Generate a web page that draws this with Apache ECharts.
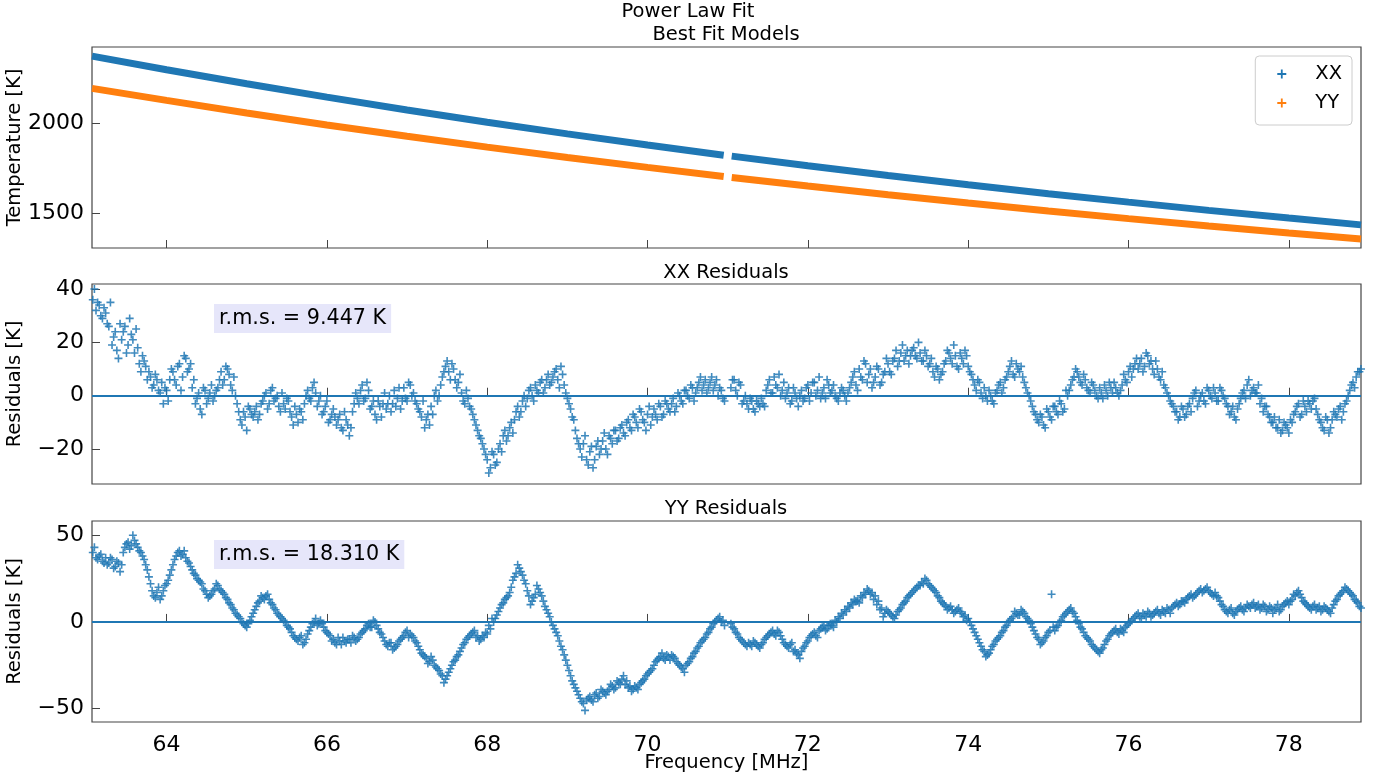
<!DOCTYPE html>
<html>
<head>
<meta charset="utf-8">
<script src="https://cdn.jsdelivr.net/npm/echarts@6/dist/echarts.min.js"></script>
<style>
html, body { margin: 0; padding: 0; background: #fff; }
#main { width: 1377px; height: 776px; }
</style>
</head>
<body>
<div id="main"></div>
<script>
// 频率轴范围与刻度
var freqMin = 63.07, freqMax = 78.9;
var xTicks = [64, 66, 68, 70, 72, 74, 76, 78];

// 上图：幂律拟合模型（中间 71 MHz 附近有缺口）
var modelFreq = [63.07, 64, 65, 66, 67, 68, 69, 70, 70.95, 71.0, 71.05, 72, 73, 74, 75, 76, 77, 78, 78.9];
var modelXX = [2376, 2300, 2222, 2147, 2075, 2007, 1942, 1880, 1823, '-', 1818, 1764, 1710, 1658, 1608, 1561, 1515, 1472, 1434];
var modelYY = [2196, 2129, 2059, 1992, 1929, 1868, 1810, 1755, 1704, '-', 1699, 1651, 1602, 1556, 1512, 1469, 1428, 1389, 1355];

// 残差采样：A 组从 63.08 MHz 起，B 组从 63.10 MHz 起，都是每 0.04 MHz 一个点，每行 1 MHz
var residStep = 0.04;
var startA = 63.08, startB = 63.10;
var xxResidA = [
    36, 32, 34, 29, 31, 26, 19, 24, 14, 21, 26, 19, 23, 16, 18, 9, 13, 6, 7, 4, 6, 1, -3, 2, 6,
    9, 4, 12, 7, 14, 10, 3, -3, 1, -7, 2, -1, 4, 0, 3, 9, 6, 10, 4, 7, -3, -9, -6, -13, -5,
    -8, -4, -7, -2, 1, -3, 3, -1, -4, 1, -5, -2, -8, -4, -10, -6, -3, 2, -2, 5, -4, 0, -6, -2, -9,
    -5, -11, -7, -13, -9, -15, -6, 1, -3, 4, -1, 2, -4, -7, -2, -8, 1, -3, -6, 2, -1, -5, 3, -2, 4,
    1, -3, -6, -2, -9, -11, -7, 2, 0, 7, 11, 9, 12, 6, 5, 1, -3, -1, -5, -9, -13, -16, -20, -24, -27,
    -22, -25, -18, -15, -17, -12, -14, -6, -8, -2, -4, 2, 0, 4, 1, 6, 3, 8, 5, 9, 6, 11, 4, -1, -5,
    -9, -16, -20, -18, -24, -21, -27, -19, -22, -17, -20, -15, -18, -13, -16, -11, -15, -9, -13, -8, -12, -6, -10, -7, -11,
    -5, -9, -4, -7, -3, -6, -1, -4, 0, -3, 2, -1, 3, 1, 5, 2, 6, 3, 7, 4, 0, 2, -2, null, 3,
    6, 0, 4, -2, -3, -1, -5, -2, -4, -3, 2, 6, 1, 4, 8, 2, -1, 3, -2, 1, -4, 2, -1, 4, 1,
    5, 2, -1, 3, 6, 1, 4, -1, 1, 2, -2, 3, 7, 4, 10, 6, 12, 8, 3, 7, 10, 5, 9, 12, 8,
    14, 11, 16, 13, 17, 15, 18, 14, 16, 13, 15, 12, 9, 11, 6, 9, 13, 16, 12, 15, 10, 14, 17, 11, 8,
    4, 6, 1, 3, -2, 0, -3, 2, 5, 3, 7, 11, 8, 12, 9, 7, 3, 0, -4, -7, -10, -8, -12, -6, -9,
    -4, -7, -3, -5, 0, 4, 7, 9, 5, 8, 3, 1, 4, 0, 3, -1, 2, 5, 1, 3, 0, 4, 6, 9, 7,
    12, 10, 14, 11, 15, 13, 8, 10, 6, 4, 1, -2, -4, -6, -8, -5, -7, -3, -1, 2, -2, 1, -3, 2, -1,
    1, -2, 2, -1, -4, -6, -8, -5, -1, 2, 4, 0, 3, 1, -3, -6, -4, -8, -10, -12, -9, -13, -11, -14, -10,
    -6, -3, -7, -4, -2, -5, -1, -7, -10, -13, -9, -12, -6, -8, -4, -6, -2, 2, 5, 7, 9
];
var xxResidB = [
    40, 35, 30, 33, 27, 35, 22, 17, 27, 24, 16, 29, 21, 25, 12, 15, 11, 9, 3, 8, 2, 5, 3, -2, 10,
    6, 11, 2, 15, 9, 12, 6, -1, -5, 3, -3, 1, -2, 2, 6, 4, 11, 8, 2, 0, -6, -11, -8, -4, -7,
    -6, -9, -3, 0, -5, 2, -2, 0, -6, -3, -1, -6, -11, -7, -5, -9, 0, -1, 3, 1, -2, -7, -4, -10, -7,
    -8, -9, -12, -6, -11, -12, -3, -1, 2, -2, 5, -5, -2, -9, -4, -3, -5, 0, -3, -4, 3, -2, -1, 5, 0,
    -2, -5, -8, -12, -7, -4, 0, -2, 4, 9, 13, 6, 10, 3, 8, -2, 2, -4, -7, -11, -15, -18, -22, -29, -21,
    -26, -20, -21, -13, -15, -10, -9, -4, -6, 0, -1, 3, -2, 2, 5, 1, 6, 4, 7, 10, 3, 8, 1, -3, -8,
    -13, -18, -23, -15, -26, -19, -24, -17, -20, -14, -22, -16, -13, -17, -12, -14, -10, -12, -7, -10, -5, -9, -13, -4, -8,
    -7, -3, -8, -2, -5, -3, -6, 1, -2, 2, 0, 4, -2, 3, 7, 4, 1, 5, 2, 6, 3, -1, null, null, 6,
    2, 5, -3, 0, -5, -2, -6, -3, -1, -4, 4, 1, 7, 3, 0, 5, 1, -3, 3, -1, 0, -2, 3, -2, 5,
    0, 7, 1, -1, 4, 2, 0, -2, 3, 0, 1, 5, 9, 2, 7, 13, 5, 10, 5, 11, 4, 8, 14, 9, 13,
    17, 13, 19, 15, 12, 17, 15, 20, 13, 17, 11, 14, 7, 10, 8, 12, 17, 14, 19, 11, 16, 12, 15, 9, 6,
    2, 5, -1, 0, 2, -2, 1, 4, 1, 6, 9, 13, 7, 10, 11, 5, 1, -2, -6, -9, -7, -11, -5, -8, -4,
    -6, -2, -6, 2, 2, 6, 10, 7, 4, 6, 2, 5, 2, -1, 1, 4, 0, 3, 5, 1, 2, 8, 5, 11, 10,
    14, 12, 9, 16, 12, 10, 13, 7, 9, 3, 0, -3, -6, -9, -4, -8, -4, -6, 1, -4, 0, -2, 3, 0, 3,
    -2, 3, 0, -3, -7, -4, -9, -3, 1, -1, 6, 2, 1, 4, -1, -4, -7, -10, -8, -12, -14, -10, -12, -9, -7,
    -4, -8, -2, -6, -3, -2, -5, -9, -12, -8, -14, -9, -7, -5, -9, -3, 0, 4, 3, 9, 10
];
var yyResidA = [
    40, 37, 38, 35, 37, 34, 36, 32, 34, 33, 43, 46, 44, 47, 43, 40, 36, 30, 22, 15, 17, 13, 18, 22, 27,
    33, 38, 41, 39, 37, 34, 30, 27, 24, 22, 18, 14, 16, 19, 21, 18, 16, 13, 10, 7, 4, 2, -1, -3, 1,
    5, 9, 12, 14, 15, 13, 10, 7, 4, 2, 0, -3, -6, -9, -11, -8, -12, -7, -3, 0, -2, 1, -3, -6, -8,
    -10, -13, -11, -9, -12, -10, -8, -11, -9, -6, -4, -1, -3, 0, -4, -7, -11, -14, -12, -15, -13, -10, -8, -5, -7,
    -9, -12, -16, -19, -21, -23, -22, -26, -28, -31, -33, -29, -25, -22, -19, -15, -12, -9, -7, -5, -8, -10, -9, -7, -4,
    0, 4, 8, 11, 14, 17, 24, 28, 31, 27, 22, 15, 12, 16, 19, 15, 9, 5, 0, -4, -8, -14, -19, -25, -31,
    -36, -40, -44, -47, -45, -43, -46, -41, -43, -40, -42, -39, -37, -38, -35, -33, -36, -38, -40, -37, -39, -35, -33, -30, -28,
    -25, -22, -20, -21, -19, -22, -20, -23, -25, -27, -25, -23, -20, -17, -14, -11, -9, -6, -3, 0, 2, 0, -2, null, -1,
    -4, -7, -10, -12, -14, -13, -11, -13, -15, -12, -9, -7, -5, -8, -6, -10, -13, -15, -12, -16, -19, -17, -14, -11, -8,
    -6, -9, -4, -2, -4, -1, -3, 0, 2, 4, 6, 8, 10, 12, 11, 14, 16, 18, 17, 15, 12, 8, 5, 6, 4,
    2, 6, 8, 11, 14, 16, 18, 20, 21, 22, 24, 21, 19, 17, 14, 11, 9, 8, 7, 6, 8, 5, 4, 2, -2,
    -6, -10, -14, -17, -19, -16, -13, -10, -8, -5, -2, 1, 3, 5, 4, 6, 3, 1, -3, -7, -10, -12, -9, -6, 16,
    -5, -2, 1, 4, 6, 8, 5, 1, -3, -6, -9, -11, -14, -16, -18, -15, -11, -8, -6, -4, -7, -5, -3, -1, 1,
    3, 5, 2, 4, 6, 3, 5, 7, 4, 6, 8, 5, 9, 11, 10, 12, 13, 15, 14, 16, 18, 17, 19, 18, 16,
    17, 14, 10, 7, 5, 8, 4, 7, 9, 6, 10, 8, 11, 9, 7, 10, 6, 9, 5, 8, 6, 9, 11, 10, 13,
    15, 18, 14, 11, 9, 7, 10, 8, 6, 9, 7, 5, 10, 13, 16, 18, 19, 17, 15, 12, 9
];
var yyResidB = [
    43, 36, 39, 34, 33, 37, 31, 35, 29, 40, 45, 42, 50, 45, 41, 38, 33, 26, 18, 14, 20, 15, 21, 24, 30,
    36, 40, 38, 41, 35, 32, 28, 25, 23, 19, 16, 15, 18, 22, 19, 17, 14, 11, 8, 5, 3, 0, -2, -1, 3,
    7, 11, 15, 13, 16, 11, 8, 5, 3, 1, -2, -4, -8, -10, -9, -13, -10, -5, -1, 2, -1, -1, -5, -7, -11,
    -12, -9, -13, -11, -10, -12, -9, -10, -7, -5, -2, -3, 1, -2, -6, -9, -13, -12, -16, -14, -11, -9, -6, -9, -8,
    -11, -14, -18, -20, -24, -20, -25, -27, -30, -35, -31, -27, -23, -20, -17, -13, -10, -8, -6, -9, -11, -8, -6, -2, 2,
    2, 6, 10, 13, 15, 20, 26, 33, 29, 24, 18, 10, 14, 21, 17, 12, 7, 3, -2, -6, -11, -16, -22, -28, -34,
    -38, -42, -46, -51, -44, -45, -42, -44, -39, -41, -40, -36, -39, -34, -36, -31, -34, -37, -39, -38, -36, -34, -31, -29, -27,
    -23, -21, -18, -22, -20, -19, -21, -24, -26, -29, -24, -21, -18, -15, -12, -10, -7, -4, -1, 1, 3, 1, null, null, -3,
    -6, -9, -11, -13, -12, -14, -12, -14, -13, -10, -8, -6, -7, -5, -8, -12, -14, -13, -17, -18, -21, -15, -12, -9, -7,
    -8, -5, -3, -5, -2, -2, 1, 3, 5, 7, 9, 11, 13, 12, 15, 17, 19, 16, 13, 10, 7, 3, 7, 5, 3,
    4, 7, 10, 12, 15, 17, 19, 21, 23, 25, 22, 20, 18, 15, 12, 10, 7, 9, 5, 7, 6, 3, 1, 0, -4,
    -8, -12, -16, -20, -18, -14, -11, -9, -6, -3, 0, 2, 6, 4, 7, 5, 2, -1, -5, -9, -13, -11, -8, -5, -3,
    -3, 0, 3, 5, 7, 6, 3, -1, -4, -8, -10, -13, -15, -17, -16, -13, -10, -7, -5, -6, -4, -6, -2, 0, 2,
    4, 3, 5, 3, 5, 4, 6, 5, 7, 5, 7, 8, 10, 9, 12, 11, 14, 16, 15, 17, 19, 18, 20, 17, 15,
    15, 12, 9, 6, 7, 5, 6, 8, 7, 8, 9, 10, 8, 10, 8, 9, 7, 8, 7, 10, 7, 10, 12, 12, 16,
    17, 16, 12, 10, 8, 9, 7, 9, 7, 8, 6, 8, 12, 15, 17, 20, 18, 16, 13, 11, 8
];
var rmsXX = 'r.m.s. = 9.447 K';
var rmsYY = 'r.m.s. = 18.310 K';

var blue = '#1f77b4', orange = '#ff7f0e';
var font = 'DejaVu Sans';
var frameColor = '#444';
var plus = 'path://M4,0H6V4H10V6H6V10H4V6H0V4H4Z';

function pairs(xs, ys) {
    return xs.map(function (x, i) { return [x, ys[i]]; });
}

function residPairs(vals, start, out) {
    vals.forEach(function (v, i) {
        if (v !== null) out.push([+(start + i * residStep).toFixed(2), v]);
    });
    return out;
}

function minusFmt(v) {
    return v < 0 ? '\u2212' + Math.abs(v) : String(v);
}

function makeX(idx, withLabels) {
    return {
        type: 'value', gridIndex: idx, min: freqMin, max: freqMax,
        axisLine: { show: false },
        splitLine: { show: false },
        axisTick: { inside: true, length: 8, lineStyle: { color: frameColor }, customValues: xTicks },
        axisLabel: { show: withLabels, customValues: xTicks, fontSize: 22, color: '#000', fontFamily: font, margin: 12 },
        name: withLabels ? 'Frequency [MHz]' : '',
        nameLocation: 'middle', nameGap: 31, nameMoveOverlap: false,
        nameTextStyle: { fontSize: 19.5, color: '#000', fontFamily: font }
    };
}

function makeY(idx, min, max, ticks, name) {
    return {
        type: 'value', gridIndex: idx, min: min, max: max,
        axisLine: { show: false },
        splitLine: { show: false },
        axisTick: { inside: true, length: 8, lineStyle: { color: frameColor }, customValues: ticks },
        axisLabel: { customValues: ticks, fontSize: 22, color: '#000', fontFamily: font, margin: 8, formatter: minusFmt },
        name: name, nameLocation: 'middle', nameGap: 67, nameMoveOverlap: false,
        nameTextStyle: { fontSize: 19.5, color: '#000', fontFamily: font }
    };
}

function subTitle(text, top) {
    return { text: text, left: 726, top: top, textAlign: 'center', padding: 0,
        textStyle: { fontSize: 19.5, fontWeight: 'normal', color: '#000', fontFamily: font } };
}

function rmsBox(text, top) {
    return { text: text, left: 214, top: top, padding: [4, 5], backgroundColor: '#e6e6fa',
        textStyle: { fontSize: 20.7, fontWeight: 'normal', color: '#000', fontFamily: font, lineHeight: 21 } };
}

function makeGrid(top, height) {
    return { left: 92, right: 16, top: top, height: height, show: true, containLabel: false,
        outerBoundsMode: 'none', borderColor: frameColor, borderWidth: 1.2 };
}

var zeroLine = {
    silent: true, symbol: ['none', 'none'], label: { show: false },
    lineStyle: { color: blue, width: 2, type: 'solid' },
    data: [{ yAxis: 0 }]
};

var myChart = echarts.init(document.getElementById('main'));

var option = {
    animation: false,
    backgroundColor: '#fff',
    title: [
        { text: 'Power Law Fit', left: 688, top: 2, textAlign: 'center', padding: 0,
          textStyle: { fontSize: 19.5, fontWeight: 'normal', color: '#000', fontFamily: font } },
        subTitle('Best Fit Models', 25),
        subTitle('XX Residuals', 263),
        subTitle('YY Residuals', 499),
        rmsBox(rmsXX, 304),
        rmsBox(rmsYY, 540)
    ],
    legend: {
        data: [{ name: 'XX', icon: plus }, { name: 'YY', icon: plus }],
        orient: 'vertical', right: 25, top: 56,
        itemWidth: 9, itemHeight: 9, itemGap: 9,
        padding: [8, 10, 12, 22],
        borderColor: '#ccc', borderWidth: 1, borderRadius: 4, backgroundColor: '#fff',
        textStyle: { fontSize: 19.5, color: '#000', fontFamily: font, padding: [0, 0, 0, 24] }
    },
    grid: [makeGrid(47, 201), makeGrid(284, 200), makeGrid(521, 201)],
    xAxis: [makeX(0, false), makeX(1, false), makeX(2, true)],
    yAxis: [
        makeY(0, 1305, 2427, [1500, 2000], 'Temperature [K]'),
        makeY(1, -33.1, 41.9, [-20, 0, 20, 40], 'Residuals [K]'),
        makeY(2, -57.7, 58.2, [-50, 0, 50], 'Residuals [K]')
    ],
    series: [
        { name: 'XX', type: 'line', xAxisIndex: 0, yAxisIndex: 0, data: pairs(modelFreq, modelXX),
          showSymbol: false, color: blue, lineStyle: { width: 7, color: blue }, silent: true },
        { name: 'YY', type: 'line', xAxisIndex: 0, yAxisIndex: 0, data: pairs(modelFreq, modelYY),
          showSymbol: false, color: orange, lineStyle: { width: 7, color: orange }, silent: true },
        { name: 'XX resid', type: 'scatter', xAxisIndex: 1, yAxisIndex: 1,
          data: residPairs(xxResidB, startB, residPairs(xxResidA, startA, [])),
          symbol: plus, symbolSize: 8, itemStyle: { color: blue, opacity: 0.85 }, silent: true, markLine: zeroLine },
        { name: 'YY resid', type: 'scatter', xAxisIndex: 2, yAxisIndex: 2,
          data: residPairs(yyResidB, startB, residPairs(yyResidA, startA, [])),
          symbol: plus, symbolSize: 8, itemStyle: { color: blue, opacity: 0.85 }, silent: true, markLine: zeroLine }
    ]
};

myChart.setOption(option);
</script>
</body>
</html>
